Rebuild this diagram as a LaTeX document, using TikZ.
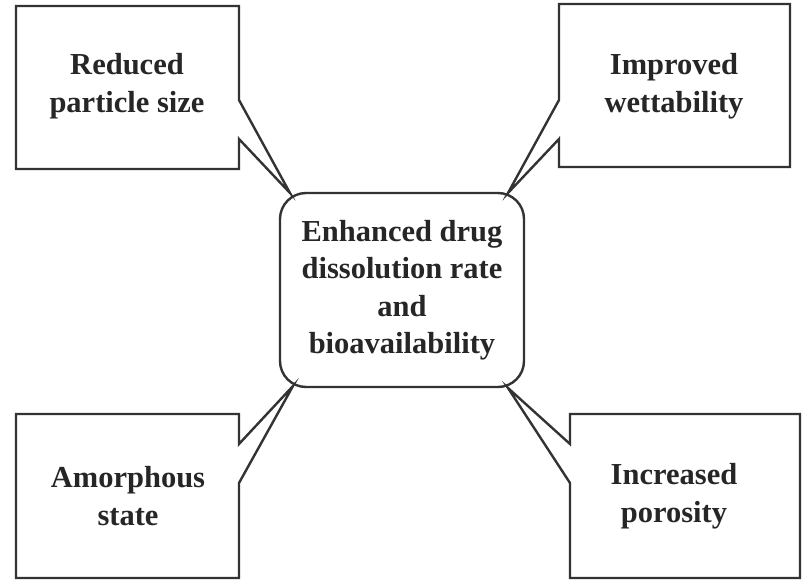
\documentclass[tikz,border=0pt]{standalone}
\usepackage{fontspec}
\setmainfont{Liberation Serif}
\usetikzlibrary{positioning}
\tikzset{
  txt/.style={align=center,font=\fontsize{30.5}{37.5}\selectfont\bfseries,text=black!85},
  outline/.style={draw=black!80,line width=2.4pt,line join=miter}
}
\begin{document}
\begin{tikzpicture}[x=1pt,y=-1pt]
\useasboundingbox (0,0) rectangle (809,581);
% centre
\node (core) at (402,290) [outline,rounded corners=26pt,minimum width=244pt,minimum height=194pt,txt] {Enhanced drug\\dissolution rate\\and\\bioavailability};
\coordinate (tipA) at (290,193);
\coordinate (tipB) at (508,193);
\coordinate (tipC) at (293,386);
\coordinate (tipD) at (508,388);
% callouts
\draw[outline] (16,6) -- (239,6) -- (239,100) -- (tipA) -- (239,139) -- (239,169) -- (16,169) -- cycle;
\node (reduced) at (127,86) [txt] {Reduced\\particle size};
\draw[outline] (559,4) -- (790,4) -- (790,167) -- (559,167) -- (559,139) -- (tipB) -- (559,100) -- cycle;
\node (wetting) at (674,86) [txt] {Improved\\wettability};
\draw[outline] (16,414) -- (239,414) -- (239,444) -- (tipC) -- (239,483) -- (239,578) -- (16,578) -- cycle;
\node (amorph) at (128,496) [txt] {Amorphous\\state};
\draw[outline] (570,414) -- (800,414) -- (800,578) -- (570,578) -- (570,483) -- (tipD) -- (570,444) -- cycle;
\node (porous) at (674,496) [txt] {Increased\\porosity};
\end{tikzpicture}
\end{document}
